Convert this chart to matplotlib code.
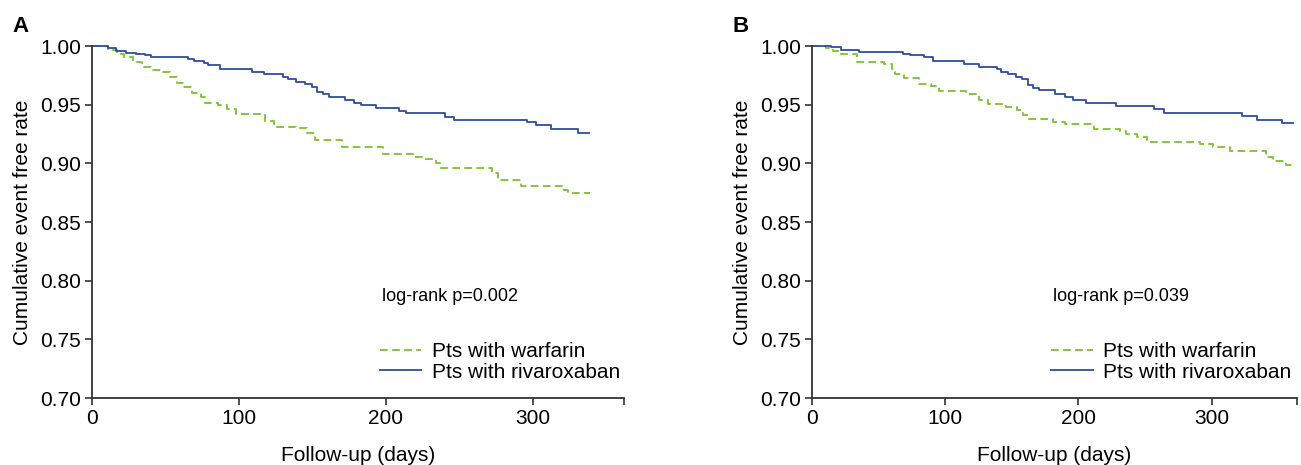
import matplotlib
matplotlib.use("Agg")
import matplotlib.pyplot as plt

plt.rcParams["font.family"] = ["Liberation Sans", "DejaVu Sans"]

# Panel A : temps (jours) et survie sans événement après chaque marche
a_warf_t = [0, 11, 17, 22, 28, 34, 40, 48, 53, 58, 62, 68, 74, 77, 86, 92, 98,
            118, 124, 139, 146, 152, 170, 198, 219, 226, 234, 237, 272, 276,
            292, 320, 324, 339]
a_warf_s = [1.0, 0.9966, 0.9932, 0.991, 0.9866, 0.9818, 0.9795, 0.9775, 0.9738,
            0.9688, 0.9648, 0.9603, 0.9563, 0.9511, 0.9494, 0.946, 0.942,
            0.9364, 0.9313, 0.9298, 0.9256, 0.920, 0.9142, 0.908, 0.9057,
            0.9034, 0.9006, 0.8957, 0.8915, 0.8858, 0.881, 0.8773, 0.8744,
            0.8744]
a_riva_t = [0, 11, 16.5, 23, 30, 36, 40, 65, 69.4, 76, 78.7, 86.8, 109, 117,
            130, 133.3, 139, 145, 150, 153, 157, 161, 172, 178, 183, 193, 209,
            213.6, 240, 246, 296, 302, 312, 330.6, 338]
a_riva_s = [1.0, 0.998, 0.996, 0.9943, 0.993, 0.992, 0.991, 0.989, 0.9875,
            0.9858, 0.9835, 0.980, 0.9778, 0.976, 0.9738, 0.9716, 0.9693,
            0.9673, 0.9653, 0.9608, 0.9588, 0.9568, 0.954, 0.9517, 0.9494,
            0.9474, 0.9449, 0.9429, 0.9398, 0.9372, 0.9355, 0.9324, 0.9293,
            0.926, 0.926]

# Panel B
b_warf_t = [0, 10.5, 15.5, 20.5, 34, 54, 60, 62.5, 69, 80.5, 89, 95.5, 115.5,
            125.5, 131.8, 145.5, 153.5, 158, 163, 180.5, 190, 212, 231, 236,
            243.6, 251.6, 291, 301, 313.6, 341, 346, 356, 361.5]
b_warf_s = [1.0, 0.9986, 0.9955, 0.9935, 0.9864, 0.9844, 0.9808, 0.9765,
            0.9731, 0.968, 0.966, 0.9617, 0.9595, 0.9538, 0.9504, 0.9481,
            0.9453, 0.941, 0.9382, 0.9356, 0.9333, 0.9293, 0.9273, 0.925,
            0.9228, 0.9185, 0.9162, 0.9142, 0.9103, 0.9054, 0.9017, 0.8989,
            0.8989]
b_riva_t = [0, 14, 21.7, 35.5, 68, 73.5, 84, 90.5, 114, 125, 139, 141.8, 146.8,
            153, 157.5, 161.8, 166, 170.5, 182, 190, 196, 206, 228, 257, 264,
            323, 334, 353, 361]
b_riva_s = [1.0, 0.9991, 0.9963, 0.9949, 0.9935, 0.992, 0.9906, 0.9869,
            0.9844, 0.9824, 0.9801, 0.9781, 0.9758, 0.9735, 0.9716, 0.9665,
            0.9645, 0.9622, 0.9588, 0.9569, 0.954, 0.9514, 0.9492, 0.9463,
            0.9429, 0.9407, 0.9367, 0.9344, 0.9344]

pvals = ["log-rank p=0.002", "log-rank p=0.039"]
panneaux = ["A", "B"]
yticks = [0.70, 0.75, 0.80, 0.85, 0.90, 0.95, 1.00]
xticks = [0, 100, 200, 300]

VERT = "#86c440"
BLEU = "#2f4d9e"
GRIS = "#333333"
FS = 15

fig = plt.figure(figsize=(13.01, 4.65), dpi=100)

# (gauche, bas, largeur, hauteur), xmax, position texte / légende
config = [
    ((92 / 1301, 67 / 465, 532 / 1301, 352 / 465), 362, 0.545, 12 / 1301),
    ((812 / 1301, 67 / 465, 485 / 1301, 352 / 465), 364, 0.497, 732 / 1301),
]
series = [(a_warf_t, a_warf_s, a_riva_t, a_riva_s),
          (b_warf_t, b_warf_s, b_riva_t, b_riva_s)]

for i, (rect, xmax, xtxt, xlab) in enumerate(config):
    ax = fig.add_axes(rect)
    wt, ws, rt, rs = series[i]
    ax.step(wt, ws, where="post", color=VERT, lw=1.4, dashes=(4, 2.2),
            label="Pts with warfarin", clip_on=False)
    ax.step(rt, rs, where="post", color=BLEU, lw=1.3,
            label="Pts with rivaroxaban", clip_on=False)

    ax.set_xlim(0, xmax)
    ax.set_ylim(0.70, 1.00)
    ax.set_xticks(xticks + [xmax])
    ax.set_xticklabels([str(x) for x in xticks] + [""])
    ax.set_yticks(yticks)
    ax.set_yticklabels([f"{y:.2f}" for y in yticks])
    for s in ["top", "right"]:
        ax.spines[s].set_visible(False)
    for s in ["left", "bottom"]:
        ax.spines[s].set_color(GRIS)
        ax.spines[s].set_linewidth(1.3)
    ax.tick_params(direction="out", length=5, width=1.2, color=GRIS,
                   labelsize=FS, pad=3)
    ax.set_xlabel("Follow-up (days)", fontsize=FS, labelpad=13)
    ax.set_ylabel("Cumulative event free rate", fontsize=FS, labelpad=6)

    ax.text(xtxt, 0.287, pvals[i], transform=ax.transAxes, fontsize=13,
            ha="left", va="center")
    ax.legend(loc="center left", bbox_to_anchor=(xtxt - 0.004, 0.1025),
              frameon=False, fontsize=FS, handlelength=2.0,
              handletextpad=0.5, labelspacing=0.08, borderpad=0,
              borderaxespad=0)

    fig.text(xlab, 1 - 26 / 465, panneaux[i], fontsize=16, fontweight="bold",
             ha="left", va="center")

fig.savefig("out.png", dpi=100)
